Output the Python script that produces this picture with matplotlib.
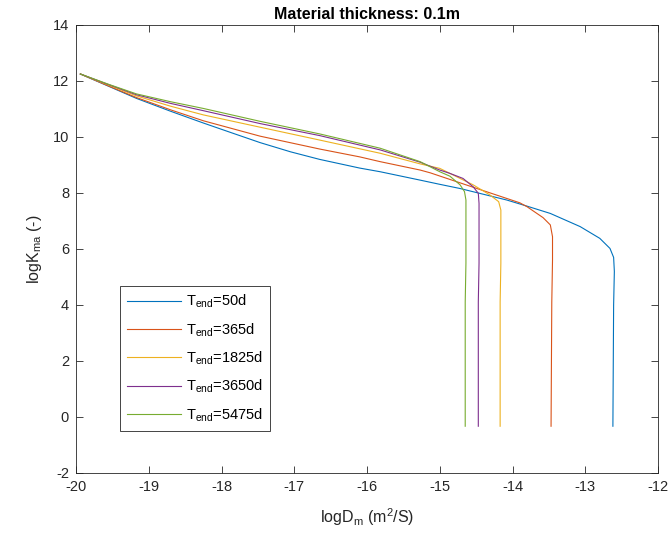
import matplotlib
matplotlib.use('Agg')
import matplotlib.pyplot as plt

plt.rcParams['font.family'] = ['Liberation Sans', 'DejaVu Sans']
plt.rcParams['mathtext.default'] = 'regular'
plt.rcParams['axes.unicode_minus'] = False

# curves (logDm, logKma)
x_50 = [-19.94, -19.55, -19.17, -18.70, -18.25, -17.85, -17.47, -17.05, -16.65, -16.10, -15.82, -15.27,
        -15.0, -14.72, -14.08, -13.80, -13.48, -13.07, -12.80, -12.66, -12.61, -12.60, -12.61, -12.62]
y_50 = [12.25, 11.81, 11.38, 10.92, 10.50, 10.14, 9.80, 9.47, 9.20, 8.89, 8.76, 8.46,
        8.31, 8.16, 7.75, 7.53, 7.27, 6.80, 6.38, 6.02, 5.70, 5.2, 4.0, -0.33]

x_365 = [-19.94, -19.55, -19.17, -18.70, -18.25, -17.47, -16.65, -16.10, -15.82, -15.27, -15.13, -14.5,
         -13.90, -13.80, -13.58, -13.48, -13.45, -13.45, -13.46, -13.47]
y_365 = [12.25, 11.82, 11.41, 10.97, 10.58, 10.03, 9.57, 9.29, 9.12, 8.82, 8.72, 8.17,
         7.65, 7.51, 7.12, 6.86, 6.44, 5.6, 4.1, -0.33]

x_1825 = [-19.94, -19.55, -19.17, -18.70, -18.25, -17.47, -16.65, -15.82, -15.27, -15.0, -14.72, -14.54,
          -14.31, -14.19, -14.16, -14.16, -14.17, -14.17]
y_1825 = [12.25, 11.85, 11.47, 11.10, 10.79, 10.35, 9.89, 9.42, 9.04, 8.88, 8.52, 8.29,
          7.93, 7.69, 7.39, 5.5, 4.1, -0.33]

x_3650 = [-19.94, -19.55, -19.17, -18.70, -18.25, -17.47, -16.65, -15.82, -15.27, -15.0, -14.86, -14.68,
          -14.54, -14.47, -14.46, -14.46, -14.47, -14.47]
y_3650 = [12.25, 11.87, 11.51, 11.20, 10.94, 10.48, 10.05, 9.54, 9.10, 8.82, 8.70, 8.52,
          8.22, 7.99, 7.63, 5.5, 4.1, -0.33]

x_5475 = [-19.94, -19.55, -19.17, -18.70, -18.25, -17.47, -16.65, -15.82, -15.27, -15.0, -14.86, -14.72,
          -14.66, -14.64, -14.64, -14.65, -14.65]
y_5475 = [12.25, 11.88, 11.54, 11.26, 11.02, 10.56, 10.11, 9.60, 9.12, 8.76, 8.60, 8.29,
          8.05, 7.75, 5.5, 4.1, -0.33]

labels = ['T$_{end}$=50d', 'T$_{end}$=365d', 'T$_{end}$=1825d',
          'T$_{end}$=3650d', 'T$_{end}$=5475d']
colors = ['#0072BD', '#D95319', '#EDB120', '#7E2F8E', '#77AC30']
xs = [x_50, x_365, x_1825, x_3650, x_5475]
ys = [y_50, y_365, y_1825, y_3650, y_5475]

fig = plt.figure(figsize=(6.72, 5.49), dpi=100)
ax = fig.add_axes([76/672, 1 - 473/549, 582/672, 448/549])

for x, y, c, l in zip(xs, ys, colors, labels):
    ax.plot(x, y, color=c, lw=0.8, label=l)

ax.set_xlim(-20, -12)
ax.set_ylim(-2, 14)
ax.set_xticks(range(-20, -11))
ax.set_yticks(range(-2, 15, 2))
ax.tick_params(direction='in', top=True, right=True, length=5, width=0.6,
               colors='#262626', labelsize=10.5, pad=5)
for s in ax.spines.values():
    s.set_color('#262626')
    s.set_linewidth(0.6)

ax.set_xlabel('logD$_m$ (m$^2$/S)', fontsize=11.5, color='#262626', labelpad=9)
ax.set_ylabel('logK$_{ma}$ (-)', fontsize=11.5, color='#262626', labelpad=6)
ax.set_title('Material thickness: 0.1m', fontsize=11.5, fontweight='bold', pad=4)

leg = ax.legend(loc='lower left', bbox_to_anchor=(0.0756, 0.094), fontsize=10.5,
                frameon=True, fancybox=False, framealpha=1, edgecolor='#262626',
                handlelength=3.7, handletextpad=0.3, labelspacing=0.75,
                borderpad=0.5, borderaxespad=0)
leg.get_frame().set_linewidth(0.6)

fig.savefig('out.png', dpi=100)
